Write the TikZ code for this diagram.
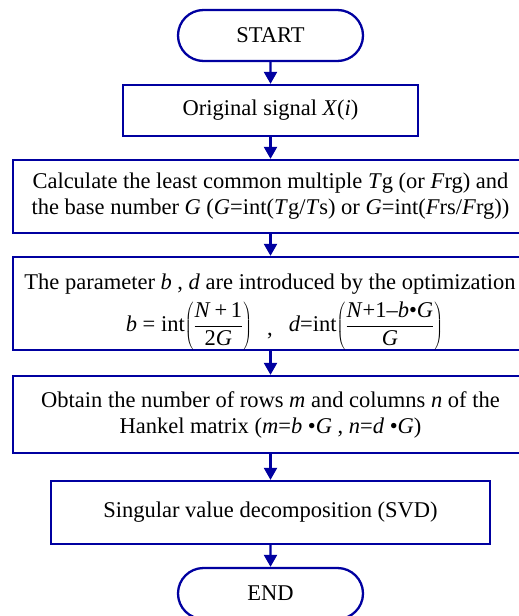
\documentclass[tikz,border=0pt]{standalone}
\usepackage{fontspec}
\setmainfont{Liberation Serif}
\usetikzlibrary{arrows.meta,shapes.misc}
\definecolor{fcblue}{RGB}{0,0,160}
\newcommand\fcfont{\fontsize{22.5bp}{26bp}\selectfont}
\newcommand\fcit[1]{\textit{#1}}
\tikzset{
  box/.style={draw=fcblue, line width=2.3bp, rectangle, inner sep=0pt, align=center, font=\fcfont},
  term/.style={draw=fcblue, line width=2.3bp, rounded rectangle, minimum width=185bp, minimum height=51bp, inner sep=0pt, font=\fcfont},
  flow/.style={draw=fcblue, line width=2.3bp, -{Triangle[width=13bp,length=12bp]}},
  txt/.style={inner sep=0pt, font=\fcfont},
}
\begin{document}
\begin{tikzpicture}[x=1bp,y=-1bp]
\useasboundingbox (0,0) rectangle (519,616);
\node[term] (start) at (270.5,35.5) {START};
\node[box, minimum width=295bp, minimum height=51bp] (orig) at (270.5,110.5) {Original signal \fcit{X}(\fcit{i})};
\node[box, minimum width=515bp, minimum height=73bp] (calc) at (270.5,196.5)
  {Calculate the least common multiple \fcit{T}g (or \fcit{F}rg) and\\
   the base number \fcit{G} (\fcit{G}=int(\fcit{T}g/\fcit{T}s) or \fcit{G}=int(\fcit{F}rs/\fcit{F}rg))};
\node[box, minimum width=515bp, minimum height=93bp] (param) at (270.5,303.5) {};
\node[txt, anchor=base] (p1) at (270,289) {The parameter \fcit{b} , \fcit{d} are introduced by the optimization};
\node[txt] (pb) at (189,326) {$\displaystyle\mbox{\fcit{b} = int}\!\left(\frac{\mbox{\fcit{N}\,+\,1}}{\mbox{2\fcit{G}}}\right)$};
\node[txt, anchor=base] (pc) at (270,335) {,};
\node[txt] (pd) at (366,326) {$\displaystyle\mbox{\fcit{d}=int}\!\left(\frac{\mbox{\fcit{N}+1–\fcit{b}•\fcit{G}}}{\mbox{\fcit{G}}}\right)$};
\node[box, minimum width=515bp, minimum height=77bp] (obt) at (270.5,414.5)
  {Obtain the number of rows \fcit{m} and columns \fcit{n} of the\\
   Hankel matrix (\fcit{m}=\fcit{b} •\fcit{G} , \fcit{n}=\fcit{d} •\fcit{G})};
\node[box, minimum width=439bp, minimum height=63bp] (svd) at (270.5,512.5) {Singular value decomposition (SVD)};
\node[term] (end) at (270.5,593.5) {END};
\draw[flow] (start) -- (orig);
\draw[flow] (orig) -- (calc);
\draw[flow] (calc) -- (param);
\draw[flow] (param) -- (obt);
\draw[flow] (obt) -- (svd);
\draw[flow] (svd) -- (end);
\end{tikzpicture}
\end{document}
